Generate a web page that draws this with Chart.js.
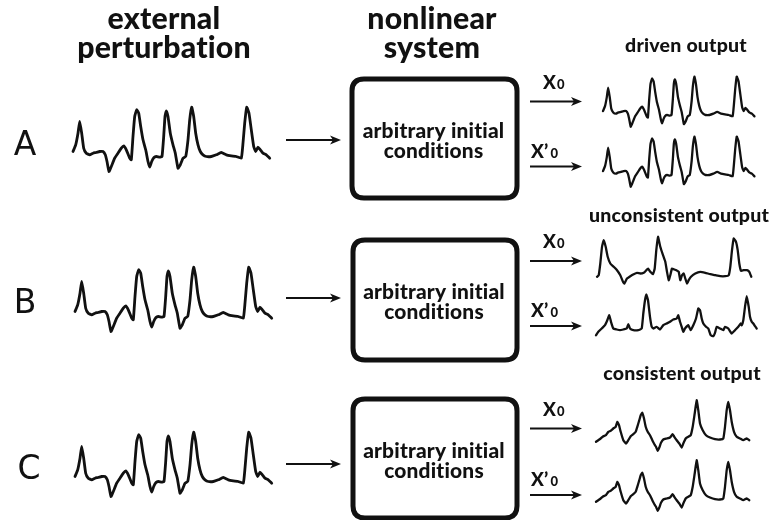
<!DOCTYPE html>
<html>
<head>
<meta charset="utf-8">
<title>Consistency of a driven nonlinear system</title>
<script src="https://cdn.jsdelivr.net/npm/chart.js@4.4.1/dist/chart.umd.min.js"></script>
<style>
  html, body { margin: 0; padding: 0; background: #fff; }
  #wrap { width: 774px; height: 520px; }
</style>
</head>
<body>
<div id="wrap"><canvas id="diagram" width="774" height="520"></canvas></div>
<script>
// ===================== Data =====================
const rowLabels = ['A', 'B', 'C'];
const columnTitles = [['external', 'perturbation'], ['nonlinear', 'system']];
const outputTitles = ['driven output', 'unconsistent output', 'consistent output'];
const boxText = ['arbitrary initial', 'conditions'];

// external perturbation (same signal fed to A, B and C), time vs amplitude
const stimT = [0, 2.7, 5, 6.7, 8.7, 10.7, 13.3, 16.7, 20, 23.3, 26.7, 30, 32.3, 34, 36, 38.3, 41.7, 45, 48.3, 50.7,
  53.3, 56.7, 58.3, 60, 61.7, 63.7, 65.7, 67.7, 70, 72.7, 75, 76.7, 78.7, 81, 83.3, 86.7, 89, 90.7, 92, 93.3,
  95, 97.3, 100, 102.3, 105, 107.3, 110, 112.7, 115, 116.7, 118.7, 120.7, 122.7, 125, 127.3, 130, 133.3, 138.3, 143.3, 148.3,
  153.3, 158.3, 163.3, 168.3, 170, 171.7, 173.7, 176, 178.3, 180.7, 182.7, 185, 187.3, 190, 193.3, 196.7];
const stimV = [5, 11.7, 23.3, 35, 23.3, 8.3, 3.3, 1.7, 3.3, 4, 5, 5, 1.7, -5, -15, -10, -1.7, 3.3, 8.3, 10.7,
  6.7, -1.7, -3.3, 20, 40, 46.7, 43.3, 30, 16.7, 6.7, -5, -10.7, -5, -1, 0, -0.7, 0, 20, 40, 45.7,
  40, 23.3, 11.7, 3.3, -11.7, -8.3, -1.7, 0, 16.7, 36.7, 49.3, 40, 23.3, 11.7, 5, 1.7, 0, 0, 1.7, 4,
  1.7, 0.7, 0, -1.7, 13.3, 33.3, 49.3, 43.3, 26.7, 10, 5, 9.3, 6.7, 3.3, 1.7, -1.7];

// B: unconsistent responses from two initial conditions
const unconsX0T = [0, 1.7, 3.3, 5, 6.7, 8.7, 10.7, 13.3, 16.7, 20, 23.3, 26, 27.3, 30, 33.3, 36.7, 40, 43.3, 46.7, 49.3,
  51, 53.3, 56, 57.7, 59.3, 61, 63.3, 66, 68.3, 70, 71.7, 73.3, 75, 77.3, 79.3, 81.7, 83.3, 85, 86.7, 88.3,
  90, 91.7, 94, 98.3, 103.3, 108.3, 113.3, 118.3, 123.3, 128.3, 131.7, 133.3, 135, 136.7, 139, 140.7, 142.3, 144, 146.7, 150,
  152.3, 154.3];
const unconsX0V = [-3.3, -1.7, 10, 26.7, 33.3, 26.7, 16.7, 10, 6.7, 3.3, -1.7, -8.3, -10, -5, -2.7, -0.7, 0.7, 0, 0.7, 3.3,
  5, 1.7, -0.7, 5, 23.3, 36.7, 26.7, 18.3, 11.7, 1.7, -6.7, -1.7, 5, 4, 3.3, 1.7, -6.7, -1.7, 0, -5,
  -10, -6.7, -3.3, 0, 1.7, 0.7, -0.7, -1.7, -2.7, -2.7, -1.7, 6.7, 23.3, 35, 31.7, 23.3, 10, 2.7, 3.3, 3.3,
  1.7, -3.3];
const unconsX1T = [0, 2.3, 5.7, 9, 11.3, 13.3, 15, 17.3, 20.7, 24, 27.3, 30.7, 32.3, 34, 37.3, 42.3, 45.7, 47.3, 49, 50.3,
  52, 54, 55.7, 57.3, 60.7, 64, 67.3, 70.7, 74, 77.3, 80.7, 82.3, 84, 85.7, 87.3, 89, 92.3, 94.7, 97.3, 100,
  102.3, 104, 105.7, 107.3, 110, 112.3, 114.7, 117.3, 119, 120.7, 124, 127.3, 129, 132.3, 135.7, 139, 142.3, 144.7, 145.7, 147.3,
  149, 150.7, 152.7, 154, 155.7, 157.3, 159, 160.7];
const unconsX1V = [-6.7, -3.3, 0, 3.3, 8.3, 13.3, 6.7, 0, -1, -1.7, -1, 0, 4.3, 0, -1.7, -1.7, 0, 15, 28.3, 34,
  28.3, 11.7, 1.7, 0, 1.7, -1, 3.3, 5, 6.7, 9, 10, 13.3, 6.7, 1.7, -3.3, 0, 3.3, -1.7, 3.3, 10,
  20, 18.3, 10, 5, 1.7, 0, -6.7, -7.7, -4.3, 1.7, 0, -1.7, 1.7, 0, -5, -1.7, 1.7, 5, 3.3, 8.3,
  21.7, 32.3, 21.7, 11.7, 6.7, 5, 2.3, 0];

// C: consistent response (identical for both initial conditions)
const consT = [0, 2.3, 4.7, 7.3, 10, 12.3, 14.7, 17.3, 19.7, 21.3, 23, 24.7, 27.3, 30, 32.3, 34.7, 37.3, 39.7, 41.3, 43.3,
  44.7, 46.3, 48, 49.7, 51.7, 54, 56.3, 58, 60, 61.7, 63.3, 65, 67.3, 70.7, 74, 76.7, 78.3, 80.7, 83.3, 85.7,
  87.3, 89.7, 92.3, 94.7, 96.7, 98.7, 100.7, 102.3, 104, 106.7, 110, 114, 119, 124, 127.3, 129, 130.7, 132.3, 134, 135.7,
  138, 140.7, 144, 147.3, 150.7, 153.3];
const consV = [-3.3, -1.7, 0, 2.3, 3.3, 6.7, 7.7, 10, 11.7, 16.7, 13.3, 6.7, -1.7, -5, -1.7, 2.3, 4.3, 6.7, 11.7, 18.3,
  23.3, 25.7, 20, 11.7, 6.7, 3.3, -1.7, -5, -8.3, -12.3, -9, -4.3, -1, 0, 1, 4.3, 1.7, -1.7, -5, -9,
  -5, 0, 1.7, 3.3, 11.7, 25, 38.3, 28.3, 15, 8.3, 3.3, 1, -0.7, -1, 0, 11.7, 28.3, 36.7, 28.3, 16.7,
  6.7, 1.7, 0, -1.7, 0, -1.7];

// ===================== Layout =====================
const W = 774, H = 520;
const ink = '#111';
const headFont = 'Lato, "Open Sans", sans-serif';

// where each trace sits: left edge, baseline, x/y scale factors
const traces = [
  { t: stimT, v: stimV, x0: 73, base: 156.5, sx: 1, sy: 1, w: 2.8 },
  { t: stimT, v: stimV, x0: 75, base: 316.5, sx: 1, sy: 1, w: 2.8 },
  { t: stimT, v: stimV, x0: 75, base: 481.5, sx: 1, sy: 1, w: 2.8 },
  { t: stimT, v: stimV, x0: 603, base: 115, sx: 0.77, sy: 0.78, w: 2.3 },
  { t: stimT, v: stimV, x0: 603, base: 175, sx: 0.77, sy: 0.78, w: 2.3 },
  { t: unconsX0T, v: unconsX0V, x0: 597, base: 273.5, sx: 1, sy: 1, w: 2.3 },
  { t: unconsX1T, v: unconsX1V, x0: 596, base: 328.5, sx: 1, sy: 1, w: 2.3 },
  { t: consT, v: consV, x0: 596, base: 438.5, sx: 1, sy: 1, w: 2.3 },
  { t: consT, v: consV, x0: 596, base: 498.5, sx: 1, sy: 1, w: 2.3 }
];

const rowY = [142, 300, 466];          // centre line of each row (input arrow)
const boxes = [[352, 79, 517, 198], [353, 240, 517, 360], [353, 399, 517, 518]];
const outArrowY = [[101.5, 166.5], [261, 326], [428.5, 495]];
const outTitleY = [52, 222, 380];
const outTitleX = [686, 679, 682];

const datasets = traces.map(tr => ({
  data: tr.t.map((t, i) => ({ x: tr.x0 + t * tr.sx, y: tr.base - tr.v[i] * tr.sy })),
  showLine: true,
  borderColor: ink,
  borderWidth: tr.w,
  pointRadius: 0,
  tension: 0.12,
  borderJoinStyle: 'round',
  borderCapStyle: 'round'
}));

// ===================== Decorations =====================
// font size that makes `text` as wide as it is in the picture
function fitSize(ctx, text, width) {
  ctx.font = '900 20px ' + headFont;
  return 20 * width / ctx.measureText(text).width;
}
function heavy(ctx, size) {
  ctx.font = '900 ' + size.toFixed(2) + 'px ' + headFont;
}

function arrow(ctx, x1, x2, y, lw) {
  ctx.save();
  ctx.strokeStyle = ink;
  ctx.fillStyle = ink;
  ctx.lineWidth = lw;
  ctx.beginPath();
  ctx.moveTo(x1, y);
  ctx.lineTo(x2 - 8, y);
  ctx.stroke();
  ctx.beginPath();
  ctx.moveTo(x2, y);
  ctx.lineTo(x2 - 11, y - 4.5);
  ctx.lineTo(x2 - 8, y);
  ctx.lineTo(x2 - 11, y + 4.5);
  ctx.closePath();
  ctx.fill();
  ctx.restore();
}

function roundBox(ctx, x1, y1, x2, y2, r) {
  ctx.beginPath();
  ctx.moveTo(x1 + r, y1);
  ctx.lineTo(x2 - r, y1);
  ctx.quadraticCurveTo(x2, y1, x2, y1 + r);
  ctx.lineTo(x2, y2 - r);
  ctx.quadraticCurveTo(x2, y2, x2 - r, y2);
  ctx.lineTo(x1 + r, y2);
  ctx.quadraticCurveTo(x1, y2, x1, y2 - r);
  ctx.lineTo(x1, y1 + r);
  ctx.quadraticCurveTo(x1, y1, x1 + r, y1);
  ctx.closePath();
}

function xLabel(ctx, x, y, prime) {
  heavy(ctx, 19);
  ctx.textAlign = 'left';
  ctx.fillText('X', x, y);
  let cx = x + ctx.measureText('X').width;
  if (prime) {
    ctx.fillText('\u2019', cx, y);
    cx += ctx.measureText('\u2019').width + 1;
  }
  heavy(ctx, 13);
  ctx.fillText('0', cx + 1, y);
  ctx.textAlign = 'center';
}

const decor = {
  id: 'decor',
  afterDatasetsDraw(chart) {
    const ctx = chart.ctx;
    const sx = chart.scales.x, sy = chart.scales.y;
    const px = v => sx.getPixelForValue(v);
    const py = v => sy.getPixelForValue(v);
    ctx.save();
    ctx.fillStyle = ink;
    ctx.textBaseline = 'alphabetic';
    ctx.textAlign = 'center';
    ctx.letterSpacing = '0.2px';   // also keeps Lato from joining "ti"

    // column headings
    const headSize = fitSize(ctx, columnTitles[0][1], 175);
    heavy(ctx, headSize);
    ctx.fillText(columnTitles[0][0], px(164), py(29));
    ctx.fillText(columnTitles[0][1], px(164), py(58));
    ctx.fillText(columnTitles[1][0], px(432), py(29));
    ctx.fillText(columnTitles[1][1], px(432), py(58));

    const outSize = fitSize(ctx, outputTitles[1], 180);
    heavy(ctx, outSize);
    outputTitles.forEach((t, i) => ctx.fillText(t, px(outTitleX[i]), py(outTitleY[i])));

    // row letters
    ctx.letterSpacing = '0px';
    ctx.font = '33px "DejaVu Sans", sans-serif';
    rowLabels.forEach((l, i) => ctx.fillText(l, px(25 + (i === 2 ? 4 : 0)), py(rowY[i] + 13)));
    ctx.letterSpacing = '0.2px';

    // boxes with the "arbitrary initial conditions" text
    const boxSize = fitSize(ctx, boxText[0], 142);
    boxes.forEach(b => {
      ctx.save();
      ctx.strokeStyle = ink;
      ctx.lineWidth = 5;
      roundBox(ctx, px(b[0]), py(b[1]), px(b[2]), py(b[3]), 12);
      ctx.stroke();
      ctx.restore();
      const cx = (b[0] + b[2]) / 2 - 1;
      const cy = (b[1] + b[3]) / 2;
      heavy(ctx, boxSize);
      ctx.fillText(boxText[0], px(cx), py(cy - 1));
      ctx.fillText(boxText[1], px(cx), py(cy + 19));
    });

    // arrows into the system and out of it
    rowY.forEach(y => arrow(ctx, px(286), px(341), py(y - 2), 2));
    outArrowY.forEach(pair => {
      arrow(ctx, px(530), px(582), py(pair[0]), 2);
      arrow(ctx, px(530), px(582), py(pair[1]), 2);
      xLabel(ctx, px(543), py(pair[0] - 13), false);
      xLabel(ctx, px(531), py(pair[1] - 9), true);
    });
    ctx.restore();
  }
};

new Chart(document.getElementById('diagram').getContext('2d'), {
  type: 'scatter',
  data: { datasets },
  options: {
    responsive: false,
    animation: false,
    layout: { padding: 0 },
    plugins: { legend: { display: false }, tooltip: { enabled: false } },
    scales: {
      x: { type: 'linear', min: 0, max: W, display: false },
      y: { type: 'linear', min: 0, max: H, reverse: true, display: false }
    }
  },
  plugins: [decor]
});
</script>
</body>
</html>
